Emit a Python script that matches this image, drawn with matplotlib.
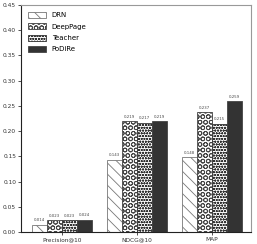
import matplotlib
matplotlib.use("Agg")
import matplotlib.pyplot as plt
import numpy as np

metrics = ["Precision@10", "NDCG@10", "MAP"]
models = ["DRN", "DeepPage", "Teacher", "PoDiRe"]
drn = [0.014, 0.143, 0.148]
deeppage = [0.023, 0.219, 0.237]
teacher = [0.023, 0.217, 0.215]
podire = [0.024, 0.219, 0.259]
y_ticks = [0.00, 0.05, 0.10, 0.15, 0.20, 0.25, 0.30, 0.35, 0.40, 0.45]

plt.rcParams["hatch.linewidth"] = 0.6

fig = plt.figure(figsize=(2.57, 2.44), dpi=100)
ax = fig.add_axes([0.082, 0.049, 0.895, 0.931])

x = np.arange(len(metrics))
width = 0.2
series = [drn, deeppage, teacher, podire]
hatches = ["\\\\\\", "OOO", "oooooo", None]
faces = ["white", "white", "white", "#333333"]
edges = ["#777777", "#444444", "#333333", "#444444"]

for i, (vals, name) in enumerate(zip(series, models)):
    pos = x + (i - 1.5) * width
    ax.bar(pos, vals, width, label=name, color=faces[i], hatch=hatches[i],
           edgecolor=edges[i], linewidth=0.6)
    for p, v in zip(pos, vals):
        ax.text(p, v + 0.005, f"{v:.3f}", ha="center", va="bottom",
                fontsize=2.8, color="#444444")

ax.set_xlim(-0.55, 2.52)
ax.set_ylim(0, 0.45)
ax.set_xticks(x)
ax.set_xticklabels(metrics)
ax.set_yticks(y_ticks)
ax.set_yticklabels([f"{t:.2f}" for t in y_ticks])
ax.tick_params(labelsize=4.2, length=2, width=0.6, pad=1.5, colors="#333333")

for side in ["top", "right"]:
    ax.spines[side].set_color("#999999")
    ax.spines[side].set_linewidth(0.8)
for side in ["left", "bottom"]:
    ax.spines[side].set_color("#222222")
    ax.spines[side].set_linewidth(0.8)

ax.legend(loc="upper left", frameon=False, fontsize=5, handlelength=2.6,
          handleheight=1.0, labelspacing=0.7, borderaxespad=0.6)

fig.savefig("out.png", dpi=100)
